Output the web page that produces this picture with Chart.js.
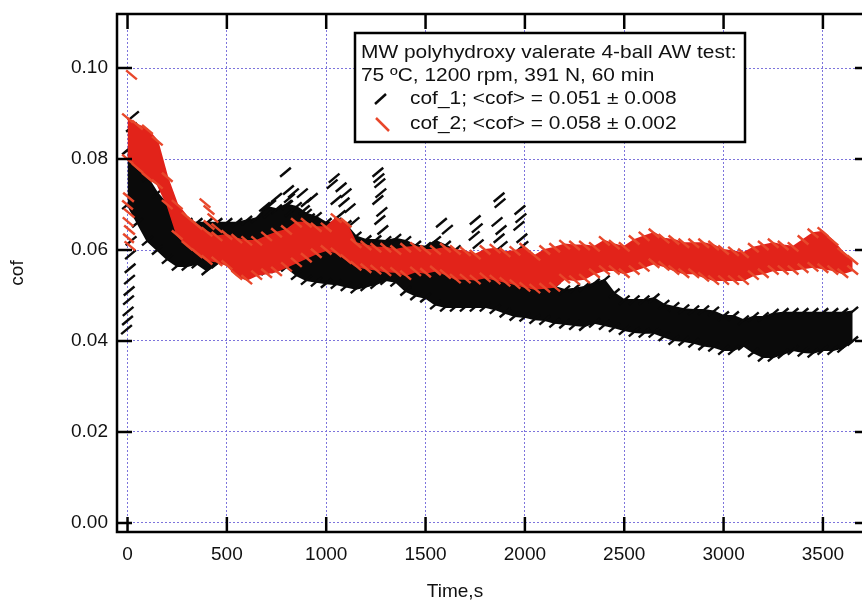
<!DOCTYPE html>
<html>
<head>
<meta charset="utf-8">
<title>cof vs time</title>
<script src="https://cdn.jsdelivr.net/npm/chart.js@4.4.1/dist/chart.umd.min.js"></script>
<style>
  html, body { margin: 0; padding: 0; background: #fff; overflow: hidden; }
  #wrap { width: 872px; height: 605px; }
  canvas { display: block; }
</style>
</head>
<body>
<div id="wrap"><canvas id="cofChart" width="872" height="605"></canvas></div>
<script>
const timeS = [
  0, 50, 100, 150, 200, 250, 300, 350, 400, 450, 500, 550, 600, 650, 700, 750,
  800, 850, 900, 950, 1000, 1050, 1100, 1150, 1200, 1250, 1300, 1350, 1400, 1450,
  1500, 1550, 1600, 1650, 1700, 1750, 1800, 1850, 1900, 1950, 2000, 2050, 2100,
  2150, 2200, 2250, 2300, 2350, 2400, 2450, 2500, 2550, 2600, 2650, 2700, 2750,
  2800, 2850, 2900, 2950, 3000, 3050, 3100, 3150, 3200, 3250, 3300, 3350, 3400,
  3450, 3500, 3550, 3600, 3650
];

// cof_1 (black) - upper / lower edge of the noisy trace
const cof1Upper = [
  0.082, 0.0795, 0.076, 0.0725, 0.070, 0.067, 0.066, 0.066, 0.066, 0.066, 0.066, 0.066,
  0.0665, 0.067, 0.0695, 0.069, 0.070, 0.0695, 0.068, 0.0673, 0.066, 0.066, 0.0655,
  0.063, 0.0622, 0.0622, 0.062, 0.0625, 0.062, 0.061, 0.0607, 0.062, 0.061, 0.060,
  0.0585, 0.058, 0.057, 0.057, 0.056, 0.0555, 0.054, 0.053, 0.0525, 0.0519, 0.0512,
  0.0515, 0.0519, 0.0527, 0.0534, 0.0505, 0.049, 0.049, 0.049, 0.0494, 0.048, 0.0475,
  0.047, 0.0468, 0.0468, 0.0465, 0.0455, 0.0455, 0.0446, 0.0453, 0.0453, 0.046,
  0.0462, 0.0462, 0.0462, 0.0462, 0.0462, 0.0462, 0.0462, 0.0465
];
const cof1Lower = [
  0.070, 0.066, 0.062, 0.060, 0.058, 0.0565, 0.0565, 0.057, 0.0555, 0.057, 0.058, 0.0563,
  0.0555, 0.0555, 0.0555, 0.056, 0.0563, 0.0545, 0.0534, 0.053, 0.0527, 0.0525, 0.052,
  0.0515, 0.052, 0.0525, 0.0534, 0.053, 0.051, 0.050, 0.0495, 0.048, 0.0475, 0.0475,
  0.0475, 0.0475, 0.0475, 0.047, 0.0462, 0.0455, 0.0453, 0.0448, 0.0446, 0.044, 0.0438,
  0.0435, 0.0433, 0.044, 0.0435, 0.043, 0.0424, 0.042, 0.0418, 0.0418, 0.041, 0.0402,
  0.040, 0.0396, 0.039, 0.0387, 0.038, 0.038, 0.039, 0.0375, 0.0365, 0.0365, 0.0372,
  0.038, 0.0376, 0.0374, 0.038, 0.038, 0.0385, 0.040
];

// cof_2 (red) - upper / lower edge of the noisy trace
const cof2Upper = [
  0.089, 0.0875, 0.0865, 0.084, 0.076, 0.070, 0.0673, 0.0655, 0.064, 0.063, 0.0633,
  0.0625, 0.062, 0.062, 0.063, 0.0638, 0.0644, 0.066, 0.066, 0.065, 0.065, 0.067, 0.066,
  0.0615, 0.061, 0.0605, 0.0605, 0.060, 0.0605, 0.0607, 0.060, 0.060, 0.0605, 0.060,
  0.0597, 0.059, 0.060, 0.0603, 0.0595, 0.0598, 0.0605, 0.0587, 0.060, 0.0605, 0.0612,
  0.061, 0.061, 0.0607, 0.062, 0.0612, 0.0607, 0.0622, 0.063, 0.0637, 0.0625, 0.0622,
  0.0615, 0.0615, 0.0615, 0.061, 0.060, 0.0597, 0.0593, 0.0605, 0.061, 0.0615, 0.061,
  0.0607, 0.0622, 0.0637, 0.064, 0.062, 0.0595, 0.0578
];
const cof2Lower = [
  0.080, 0.078, 0.076, 0.0745, 0.070, 0.0633, 0.061, 0.0593, 0.0578, 0.0575, 0.0567,
  0.0545, 0.0535, 0.0545, 0.0549, 0.0553, 0.0563, 0.0573, 0.0583, 0.0593, 0.060, 0.0595,
  0.058, 0.0565, 0.056, 0.0557, 0.0553, 0.0552, 0.0545, 0.0553, 0.055, 0.0555, 0.0547,
  0.0537, 0.0537, 0.0535, 0.054, 0.0535, 0.053, 0.0525, 0.0519, 0.0515, 0.0517, 0.0519,
  0.0537, 0.0534, 0.0537, 0.0549, 0.0556, 0.0556, 0.0549, 0.0556, 0.0563, 0.0571,
  0.0565, 0.0556, 0.0549, 0.0549, 0.0541, 0.0534, 0.0534, 0.0534, 0.0534, 0.0545,
  0.0549, 0.0556, 0.0556, 0.0556, 0.056, 0.0563, 0.056, 0.0556, 0.0549, 0.0556
];

// Isolated readings that stick out of the bands
const cof1SpikeT = [
  -5, 0, 3, 5, 8, 10, 13, 15, 18, 30, 20,
  690, 710, 720, 750,
  795, 810, 815, 805, 820, 835,
  880, 900, 890, 915, 930,
  1040, 1075, 1100, 1050, 1120, 1070, 1140, 1030, 1090,
  1260, 1265, 1270, 1275, 1260, 1280, 1270, 1285,
  1580, 1610,
  1750, 1760, 1745, 1765,
  1870, 1875, 1860, 1880, 1870, 1885,
  1975, 1980, 1970, 1985, 1990, 1975
];
const cof1SpikeV = [
  0.0425, 0.0445, 0.0465, 0.049, 0.051, 0.0535, 0.056, 0.059, 0.062, 0.0895, 0.087,
  0.0695, 0.068, 0.070, 0.0715,
  0.0771, 0.0732, 0.0714, 0.0699, 0.0684, 0.0725,
  0.0725, 0.0705, 0.0688, 0.067, 0.0715,
  0.0758, 0.0738, 0.0725, 0.071, 0.0692, 0.0677, 0.0662, 0.0745, 0.0705,
  0.0771, 0.0758, 0.0747, 0.0725, 0.071, 0.0684, 0.0666, 0.0644,
  0.066, 0.0645,
  0.0666, 0.0648, 0.0631, 0.0613,
  0.0716, 0.0703, 0.0662, 0.0644, 0.0626, 0.0609,
  0.0688, 0.067, 0.0653, 0.0626, 0.0609, 0.0591
];
const cof2SpikeT = [20, 5, 0, 8, 3, 10, 5, 12, 390, 410, 430, 410, 450];
const cof2SpikeV = [0.0985, 0.0716, 0.0699, 0.0681, 0.0662, 0.0644, 0.0626, 0.0609,
  0.0703, 0.0688, 0.067, 0.0655, 0.0648];

// Axis ticks
const xTickValues = [0, 500, 1000, 1500, 2000, 2500, 3000, 3500];
const yTickValues = [0, 0.02, 0.04, 0.06, 0.08, 0.10];

const legendLines = [
  'MW polyhydroxy valerate 4-ball AW test:',
  '75 ºC, 1200 rpm, 391 N, 60 min',
  'cof_1; <cof> = 0.051 ± 0.008',
  'cof_2; <cof> = 0.058 ± 0.002'
];

const FONT = '"Liberation Sans", Arial, sans-serif';
const RED = '#e2231a';
const RED_DASH = '#e8472b';
const BLACK = '#0a0a0a';
const GRID = '#7d74dc';
const TICK_LEN = 15;

const asPoints = (xs, ys) => xs.map((x, i) => ({ x: x, y: ys[i] }));
const edgePoints = (hi, lo) => timeS.flatMap((t, i) => [{ x: t, y: hi[i] }, { x: t, y: lo[i] }]);

function bandEdge(label, vals, color, fill, order) {
  return {
    label: label,
    data: asPoints(timeS, vals),
    showLine: true,
    borderColor: color,
    borderWidth: 2,
    backgroundColor: color,
    pointRadius: 0,
    fill: fill,
    order: order
  };
}

function dashes(label, pts, color, rotation, order) {
  return {
    label: label,
    data: pts,
    showLine: false,
    pointStyle: 'line',
    pointRadius: 7,
    pointRotation: rotation,
    pointBorderColor: color,
    pointBackgroundColor: color,
    pointBorderWidth: 2.4,
    order: order
  };
}

// keep the plot box exactly where the figure has it
function noScalePadding(s) {
  s.paddingTop = 0;
  s.paddingBottom = 0;
  s.paddingLeft = 0;
  s.paddingRight = 0;
}

// frame, inward ticks, axis titles and the boxed legend
const framePlugin = {
  id: 'frame',
  afterDatasetsDraw(chart) {
    const { ctx, chartArea: a, scales: { x, y } } = chart;
    ctx.save();
    ctx.strokeStyle = '#000';
    ctx.lineWidth = 2.5;
    ctx.strokeRect(a.left, a.top, a.right - a.left, a.bottom - a.top);
    ctx.beginPath();
    x.ticks.forEach(t => {
      const px = x.getPixelForValue(t.value);
      ctx.moveTo(px, a.bottom); ctx.lineTo(px, a.bottom - TICK_LEN);
      ctx.moveTo(px, a.top); ctx.lineTo(px, a.top + TICK_LEN);
    });
    y.ticks.forEach(t => {
      const py = y.getPixelForValue(t.value);
      ctx.moveTo(a.left, py); ctx.lineTo(a.left + TICK_LEN, py);
      ctx.moveTo(a.right, py); ctx.lineTo(a.right - TICK_LEN, py);
    });
    ctx.stroke();
    ctx.restore();
  },
  afterDraw(chart) {
    const ctx = chart.ctx;
    ctx.save();
    ctx.fillStyle = '#111';
    ctx.font = '19px ' + FONT;
    ctx.textAlign = 'center';
    ctx.textBaseline = 'middle';
    ctx.fillText('Time,s', 455, 592);
    ctx.translate(18, 273);
    ctx.rotate(-Math.PI / 2);
    ctx.fillText('cof', 0, 0);
    ctx.restore();

    // legend box
    ctx.save();
    ctx.fillStyle = '#fff';
    ctx.fillRect(355, 33, 390, 109);
    ctx.strokeStyle = '#000';
    ctx.lineWidth = 2.5;
    ctx.strokeRect(355, 33, 390, 109);

    const rows = [[361, 58], [361, 81], [410, 104], [410, 129]];
    ctx.fillStyle = '#111';
    ctx.font = '19px ' + FONT;
    ctx.textAlign = 'left';
    ctx.textBaseline = 'alphabetic';
    legendLines.forEach((txt, i) => {
      ctx.save();
      ctx.translate(rows[i][0], rows[i][1]);
      ctx.scale(1.1, 1);
      ctx.fillText(txt, 0, 0);
      ctx.restore();
    });
    ctx.lineWidth = 2.5;
    ctx.strokeStyle = BLACK;
    ctx.beginPath(); ctx.moveTo(375, 104); ctx.lineTo(386, 94); ctx.stroke();
    ctx.strokeStyle = RED_DASH;
    ctx.beginPath(); ctx.moveTo(376, 118); ctx.lineTo(389, 131); ctx.stroke();
    ctx.restore();
  }
};

const tickFont = { family: FONT, size: 19 };

new Chart(document.getElementById('cofChart'), {
  type: 'scatter',
  data: {
    datasets: [
      bandEdge('cof_2 upper', cof2Upper, RED, '+1', 2),
      bandEdge('cof_2 lower', cof2Lower, RED, false, 2),
      dashes('cof_2', edgePoints(cof2Upper, cof2Lower).concat(asPoints(cof2SpikeT, cof2SpikeV)), RED_DASH, 40, 1),
      bandEdge('cof_1 upper', cof1Upper, BLACK, '+1', 4),
      bandEdge('cof_1 lower', cof1Lower, BLACK, false, 4),
      dashes('cof_1', edgePoints(cof1Upper, cof1Lower).concat(asPoints(cof1SpikeT, cof1SpikeV)), BLACK, -40, 3)
    ]
  },
  options: {
    responsive: false,
    animation: false,
    devicePixelRatio: 1,
    layout: { autoPadding: false, padding: { top: 14, right: 2, left: 0, bottom: 0 } },
    plugins: {
      legend: { display: false },
      tooltip: { enabled: false }
    },
    scales: {
      x: {
        type: 'linear',
        min: -53,
        max: 3737,
        afterFit: s => { s.height = 73; noScalePadding(s); },
        afterBuildTicks: s => { s.ticks = xTickValues.map(v => ({ value: v })); },
        ticks: {
          autoSkip: false,
          maxRotation: 0,
          padding: 11,
          color: '#111',
          font: tickFont,
          callback: v => String(v)
        },
        grid: { color: GRID, lineWidth: 1, drawTicks: false },
        border: { display: false, dash: [2, 2] }
      },
      y: {
        type: 'linear',
        min: -0.002,
        max: 0.1119,
        afterFit: s => { s.width = 117; noScalePadding(s); },
        afterBuildTicks: s => { s.ticks = yTickValues.map(v => ({ value: v })); },
        ticks: {
          autoSkip: false,
          padding: 9,
          color: '#111',
          font: tickFont,
          callback: v => v.toFixed(2)
        },
        grid: { color: GRID, lineWidth: 1, drawTicks: false },
        border: { display: false, dash: [2, 2] }
      }
    }
  },
  plugins: [framePlugin]
});
</script>
</body>
</html>
